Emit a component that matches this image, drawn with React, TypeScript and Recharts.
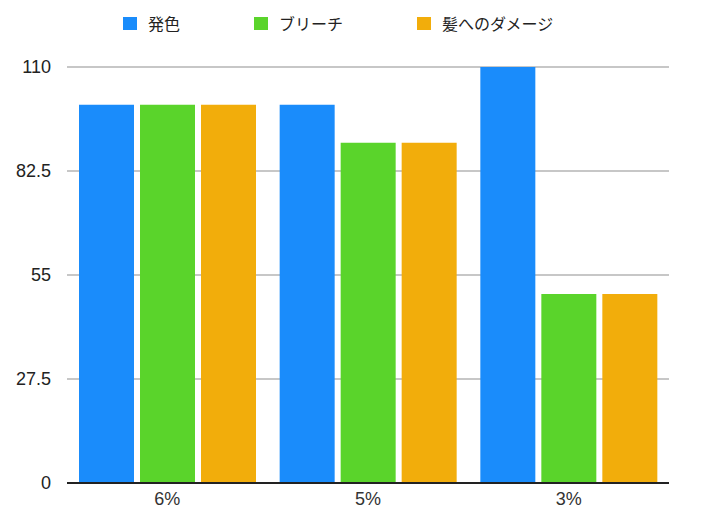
import React from 'react';
import { BarChart, Bar, XAxis, YAxis, CartesianGrid } from 'recharts';

const categories = ['6%', '5%', '3%'];
const color = [100, 100, 110]; // 発色
const bleach = [100, 90, 50]; // ブリーチ
const damage = [100, 90, 50]; // 髪へのダメージ
const yTicks = [0, 27.5, 55, 82.5, 110];

const SERIES = [
  { key: 'color', name: '発色', fill: '#1a8cfb' },
  { key: 'bleach', name: 'ブリーチ', fill: '#5ad42b' },
  { key: 'damage', name: '髪へのダメージ', fill: '#f2ad0b' },
];

const data = categories.map((c, i) => ({
  name: c,
  color: color[i],
  bleach: bleach[i],
  damage: damage[i],
}));

const FONT = '"Noto Sans CJK JP", "Noto Sans", sans-serif';
const NUM_FONT = '"Liberation Sans", Arial, sans-serif';

const App: React.FC = () => {
  return (
    <div style={{ position: 'absolute', left: 0, top: 0, width: 728, height: 519, background: '#fff', fontFamily: FONT }}>
      {/* Legend */}
      <div style={{ position: 'absolute', left: 123, top: 11, display: 'flex', alignItems: 'center' }}>
        {SERIES.map((s) => (
          <div key={s.key} style={{ display: 'flex', alignItems: 'center', marginRight: 74 }}>
            <div style={{ width: 14, height: 13, background: s.fill, marginRight: 11 }} />
            <span style={{ fontSize: 16, color: '#222', lineHeight: '24px' }}>{s.name}</span>
          </div>
        ))}
      </div>

      <BarChart
        width={728}
        height={519}
        data={data}
        margin={{ top: 67, right: 59, left: 0, bottom: 0 }}
        barCategoryGap={12}
        barGap={6}
      >
        <CartesianGrid vertical={false} stroke="#b4b4b4" strokeWidth={1.5} />
        <XAxis
          dataKey="name"
          height={36}
          tickLine={false}
          tickMargin={3}
          axisLine={{ stroke: '#222', strokeWidth: 2 }}
          tick={{ fill: '#333', fontSize: 18, fontFamily: NUM_FONT }}
        />
        <YAxis
          width={67}
          domain={[0, 110]}
          ticks={yTicks}
          axisLine={false}
          tickLine={false}
          tickSize={0}
          tickMargin={16}
          tick={{ fill: '#222', fontSize: 18, fontFamily: NUM_FONT }}
        />
        {SERIES.map((s) => (
          <Bar key={s.key} dataKey={s.key} name={s.name} fill={s.fill} isAnimationActive={false} />
        ))}
      </BarChart>
    </div>
  );
};

export default App;
